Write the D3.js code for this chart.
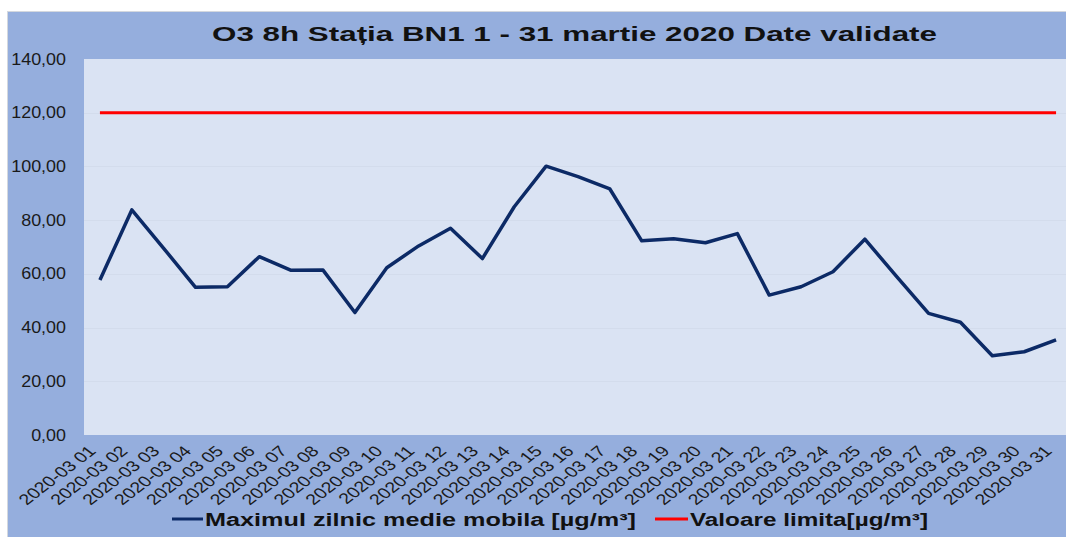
<!DOCTYPE html>
<html>
<head>
<meta charset="utf-8">
<script src="https://cdn.jsdelivr.net/npm/d3@7"></script>
<style>
  html, body { margin: 0; padding: 0; background: #fff; overflow: hidden; }
  text { font-family: "Liberation Sans", Arial, sans-serif; }
</style>
</head>
<body>
<div id="viz"></div>
<script>
// O3 8h - statia BN1, martie 2020
var days = d3.range(1, 32).map(function (d) { return "2020-03 " + (d < 10 ? "0" + d : d); });
var maxDaily = [57.7, 83.8, 69.5, 55.0, 55.2, 66.4, 61.3, 61.4, 45.6, 62.3,
                70.4, 77.0, 65.7, 85.0, 100.1, 96.2, 91.6, 72.3, 73.1, 71.6,
                75.0, 52.1, 55.2, 60.8, 72.9, 59.0, 45.3, 42.0, 29.5, 31.0, 35.4];
var limitValue = [120, 120, 120, 120, 120, 120, 120, 120, 120, 120,
                  120, 120, 120, 120, 120, 120, 120, 120, 120, 120,
                  120, 120, 120, 120, 120, 120, 120, 120, 120, 120, 120];
var yTicks = [0, 20, 40, 60, 80, 100, 120, 140];
var title = "O3 8h Stația BN1 1 - 31 martie 2020 Date validate";
var seriesNames = ["Maximul zilnic medie mobila [µg/m³]", "Valoare limita[µg/m³]"];

var width = 1066, height = 537;
var plot = { left: 84, top: 59, right: 1072, bottom: 435 };

var svg = d3.select("#viz").append("svg")
  .attr("width", width)
  .attr("height", height);

// chart area
svg.append("rect")
  .attr("x", 7.5).attr("y", 11.5)
  .attr("width", width).attr("height", height)
  .attr("fill", "#95AEDD")
  .attr("stroke", "#D4D8DE");

svg.append("rect")
  .attr("x", plot.left).attr("y", plot.top)
  .attr("width", plot.right - plot.left).attr("height", plot.bottom - plot.top)
  .attr("fill", "#DAE3F3");

var x = d3.scaleBand().domain(days).range([plot.left, plot.right]);
var cx = function (d) { return x(d) + x.bandwidth() / 2; };
var y = d3.scaleLinear().domain([0, 140]).range([plot.bottom, plot.top]);

// gridlines
svg.append("g").selectAll("line")
  .data(yTicks.filter(function (t) { return t > 0 && t < 140; }))
  .enter().append("line")
  .attr("x1", plot.left).attr("x2", plot.right)
  .attr("y1", function (d) { return Math.round(y(d)) + 0.5; })
  .attr("y2", function (d) { return Math.round(y(d)) + 0.5; })
  .attr("stroke", "#D3DCEC")
  .attr("stroke-width", 1);

// y axis labels
var fmt = function (v) { return d3.format(".2f")(v).replace(".", ","); };
svg.append("g").selectAll("text")
  .data(yTicks)
  .enter().append("text")
  .attr("transform", function (d) { return "translate(66," + (y(d) + 5.5) + ") scale(1.12,1)"; })
  .attr("text-anchor", "end")
  .attr("font-size", 16)
  .attr("fill", "#1a1a1a")
  .text(fmt);

// x axis labels
svg.append("g").selectAll("text")
  .data(days)
  .enter().append("text")
  .attr("transform", function (d) { return "translate(" + (cx(d) - 3) + ",452) scale(1.31,1) rotate(-45)"; })
  .attr("text-anchor", "end")
  .attr("font-size", 15)
  .attr("fill", "#1a1a1a")
  .text(function (d) { return d; });

// series
var line = d3.line()
  .x(function (d, i) { return cx(days[i]); })
  .y(function (d) { return y(d); });

svg.append("path")
  .datum(limitValue)
  .attr("d", line)
  .attr("fill", "none")
  .attr("stroke", "#FF0000")
  .attr("stroke-width", 3);

svg.append("path")
  .datum(maxDaily)
  .attr("d", line)
  .attr("fill", "none")
  .attr("stroke", "#0C2A66")
  .attr("stroke-width", 3.5)
  .attr("stroke-linejoin", "round");

// title
svg.append("text")
  .attr("x", 212).attr("y", 41)
  .attr("font-size", 21)
  .attr("font-weight", "bold")
  .attr("textLength", 725)
  .attr("lengthAdjust", "spacingAndGlyphs")
  .attr("fill", "#111")
  .text(title);

// legend
var legend = [
  { name: seriesNames[0], color: "#0C2A66", x1: 172, tx: 205, tw: 431 },
  { name: seriesNames[1], color: "#FF0000", x1: 655, tx: 690, tw: 238 }
];
legend.forEach(function (l) {
  svg.append("line")
    .attr("x1", l.x1).attr("x2", l.tx - 2)
    .attr("y1", 519).attr("y2", 519)
    .attr("stroke", l.color)
    .attr("stroke-width", 3);
  svg.append("text")
    .attr("x", l.tx).attr("y", 526)
    .attr("font-size", 18)
    .attr("font-weight", "bold")
    .attr("textLength", l.tw)
    .attr("lengthAdjust", "spacingAndGlyphs")
    .attr("fill", "#111")
    .text(l.name);
});
</script>
</body>
</html>
